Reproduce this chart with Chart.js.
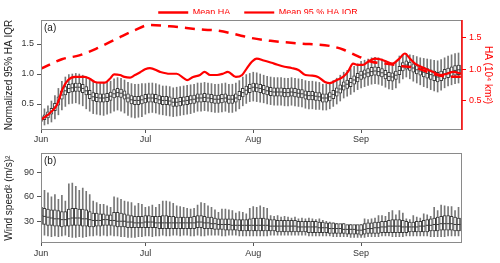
<!DOCTYPE html>
<html>
<head>
<meta charset="utf-8">
<script src="https://cdn.jsdelivr.net/npm/chart.js@4.4.1/dist/chart.umd.min.js"></script>
<style>
body { margin: 0; background: #fff; }
#wrap { position: relative; width: 500px; height: 263px; }
canvas { position: absolute; left: 0; }
#top { top: 0; }
#bot { top: 145px; }
</style>
</head>
<body>
<div id="wrap">
<canvas id="top" width="500" height="145"></canvas>
<canvas id="bot" width="500" height="118"></canvas>
</div>
<script>
// day 0 = 1 June, day 121 = 30 Sep
const monthTicks = [0, 30, 61, 92];
const monthLabels = ['Jun', 'Jul', 'Aug', 'Sep'];
const leftTicks = [0.5, 1.0, 1.5];
const rightTicks = [0.5, 1.0, 1.5];
const windTicks = [30, 60, 90];

// (a) normalized 95% HA IQR, daily boxes
const iqrMed = [
0.25,0.28,0.32,0.38,0.45,0.55,0.65,0.72,0.76,0.77,
0.78,0.78,0.76,0.72,0.66,0.62,0.61,0.60,0.60,0.61,
0.63,0.67,0.69,0.68,0.65,0.60,0.57,0.56,0.56,0.57,
0.59,0.60,0.60,0.59,0.57,0.56,0.56,0.55,0.53,0.53,
0.54,0.55,0.56,0.57,0.58,0.60,0.60,0.61,0.60,0.59,
0.58,0.58,0.59,0.60,0.58,0.58,0.60,0.64,0.69,0.73,
0.76,0.78,0.77,0.76,0.74,0.72,0.71,0.70,0.70,0.70,
0.69,0.69,0.70,0.69,0.68,0.67,0.65,0.64,0.64,0.63,
0.62,0.60,0.60,0.62,0.66,0.70,0.75,0.80,0.83,0.86,
0.90,0.94,0.98,1.00,1.02,1.04,1.05,1.04,1.02,0.99,
0.96,0.95,0.98,1.06,1.12,1.15,1.13,1.10,1.07,1.05,
1.03,1.01,0.99,0.97,0.95,0.97,1.00,1.02,1.04,1.06,
1.07,1.07];
const iqrQ1 = [
0.21,0.24,0.27,0.33,0.39,0.48,0.58,0.65,0.69,0.70,
0.71,0.71,0.69,0.65,0.59,0.55,0.54,0.53,0.53,0.54,
0.56,0.60,0.62,0.61,0.58,0.53,0.50,0.49,0.49,0.50,
0.52,0.53,0.53,0.52,0.50,0.49,0.49,0.48,0.46,0.46,
0.47,0.48,0.49,0.50,0.51,0.53,0.53,0.54,0.53,0.52,
0.51,0.51,0.52,0.53,0.51,0.51,0.53,0.57,0.62,0.66,
0.69,0.71,0.70,0.69,0.67,0.65,0.64,0.63,0.63,0.63,
0.62,0.62,0.63,0.62,0.61,0.60,0.58,0.57,0.57,0.56,
0.55,0.53,0.53,0.55,0.59,0.63,0.68,0.73,0.76,0.79,
0.83,0.87,0.91,0.93,0.95,0.97,0.98,0.97,0.95,0.92,
0.89,0.88,0.91,0.99,1.05,1.08,1.06,1.03,1.00,0.98,
0.95,0.93,0.91,0.89,0.87,0.89,0.92,0.94,0.96,0.98,
0.99,0.99];
const iqrQ3 = [
0.29,0.32,0.37,0.43,0.51,0.62,0.72,0.79,0.83,0.84,
0.85,0.85,0.83,0.79,0.73,0.69,0.68,0.67,0.67,0.68,
0.70,0.74,0.76,0.75,0.72,0.67,0.64,0.63,0.63,0.64,
0.66,0.67,0.67,0.66,0.64,0.63,0.63,0.62,0.60,0.60,
0.61,0.62,0.63,0.64,0.65,0.67,0.67,0.68,0.67,0.66,
0.65,0.65,0.66,0.67,0.65,0.65,0.67,0.71,0.76,0.80,
0.83,0.85,0.84,0.83,0.81,0.79,0.78,0.77,0.77,0.77,
0.76,0.76,0.77,0.76,0.75,0.74,0.72,0.71,0.71,0.70,
0.69,0.67,0.67,0.69,0.73,0.77,0.82,0.87,0.90,0.93,
0.97,1.01,1.05,1.07,1.09,1.11,1.12,1.11,1.09,1.06,
1.03,1.02,1.05,1.13,1.19,1.22,1.20,1.17,1.14,1.12,
1.11,1.09,1.07,1.05,1.03,1.05,1.08,1.10,1.12,1.14,
1.15,1.15];
const iqrLo = [
0.13,0.15,0.17,0.20,0.25,0.32,0.40,0.46,0.50,0.51,
0.52,0.50,0.47,0.42,0.38,0.34,0.33,0.32,0.31,0.33,
0.35,0.38,0.40,0.38,0.35,0.31,0.28,0.27,0.28,0.29,
0.33,0.35,0.36,0.35,0.33,0.32,0.31,0.30,0.29,0.30,
0.31,0.32,0.33,0.34,0.36,0.38,0.38,0.39,0.38,0.37,
0.36,0.36,0.37,0.38,0.36,0.36,0.38,0.42,0.47,0.51,
0.54,0.55,0.54,0.53,0.52,0.50,0.49,0.48,0.48,0.48,
0.47,0.47,0.48,0.47,0.46,0.45,0.43,0.42,0.42,0.41,
0.41,0.40,0.40,0.42,0.46,0.50,0.55,0.60,0.63,0.66,
0.70,0.74,0.77,0.79,0.81,0.83,0.84,0.83,0.81,0.78,
0.75,0.74,0.77,0.85,0.92,0.95,0.92,0.88,0.85,0.82,
0.79,0.77,0.74,0.72,0.70,0.73,0.77,0.80,0.82,0.84,
0.85,0.85];
const iqrHi = [
0.38,0.42,0.47,0.55,0.64,0.76,0.88,0.95,0.99,1.00,
1.01,1.00,0.98,0.95,0.90,0.86,0.85,0.84,0.85,0.86,
0.88,0.92,0.94,0.93,0.90,0.86,0.84,0.83,0.83,0.84,
0.84,0.85,0.85,0.84,0.82,0.80,0.80,0.79,0.77,0.78,
0.79,0.80,0.81,0.82,0.83,0.85,0.85,0.86,0.85,0.84,
0.83,0.83,0.84,0.85,0.83,0.83,0.85,0.89,0.95,0.99,
1.01,1.03,1.02,1.00,0.98,0.96,0.95,0.94,0.94,0.94,
0.93,0.93,0.94,0.93,0.92,0.91,0.89,0.88,0.88,0.87,
0.86,0.83,0.83,0.85,0.89,0.93,0.98,1.03,1.06,1.09,
1.13,1.17,1.21,1.23,1.25,1.27,1.28,1.27,1.25,1.22,
1.19,1.18,1.21,1.30,1.33,1.34,1.32,1.31,1.29,1.27,
1.26,1.25,1.24,1.23,1.22,1.24,1.27,1.30,1.32,1.34,
1.35,1.35];

// red lines, right axis (10^4 km^2)
const haDays = [0, 6, 11, 16, 22, 27, 31, 37, 46, 51, 57, 60, 66, 74, 83, 87, 91, 95, 99, 104, 108, 111, 116, 121];
const haMean = [1.01, 1.16, 1.22, 1.33, 1.49, 1.62, 1.70, 1.68, 1.63, 1.61, 1.54, 1.50, 1.45, 1.41, 1.37, 1.31, 1.21, 1.12, 1.09, 1.05, 1.02, 0.96, 0.89, 0.88];
const iqrDays = [0, 2.6, 4.6, 6.3, 7.8, 9.8, 12.6, 14, 15.5, 17, 18.4, 19.8, 21, 22.7, 24, 25.6, 27, 28.4, 29.9, 31.3,
  34.2, 37, 39, 41, 42, 43.7, 45.7, 47, 48.6, 50.6, 52.3, 53.7, 56, 57.8, 59.2, 60.6, 62, 64, 67, 70,
  72, 74, 76, 78, 79.6, 81.6, 83, 85, 86.8, 88.2, 89.7, 91, 92.5, 94, 96, 97.4, 99.4, 101, 103, 104.6,
  106, 107.5, 110, 112.6, 114.7, 116.7, 118.4, 121];
const iqrMean = [0.20, 0.31, 0.44, 0.70, 0.83, 0.88, 0.88, 0.85, 0.80, 0.79, 0.79, 0.85, 0.92, 0.91, 0.88, 0.87, 0.91, 0.95, 1.00, 1.02,
  0.96, 0.93, 0.93, 0.86, 0.83, 0.88, 0.91, 0.96, 0.91, 0.91, 0.93, 0.96, 0.88, 0.91, 1.02, 1.12, 1.17, 1.14, 1.09, 1.04,
  1.02, 0.99, 0.91, 0.90, 0.88, 0.80, 0.78, 0.83, 0.88, 0.96, 1.09, 1.07, 1.07, 1.12, 1.17, 1.16, 1.12, 1.09, 1.17, 1.25,
  1.17, 1.09, 1.02, 0.96, 0.91, 0.93, 0.96, 0.93];

// (b) wind speed squared, daily boxes
const windMed = [
37,36,35,34,33,33,32,32,33,34,
34,34,33,33,32,31,31,31,32,32,
31,31,30,30,30,29,29,28,28,28,
29,29,29,28,28,28,28,28,28,28,
28,28,28,28,28,29,29,28,28,27,
27,26,26,26,26,25,25,25,25,25,
25,25,25,25,25,25,24,24,24,24,
24,24,24,24,23,23,23,23,23,23,
22,22,22,21,21,21,21,20,20,20,
20,19,19,20,21,21,22,22,23,23,
24,24,24,24,23,23,23,23,23,24,
24,25,25,26,26,27,27,27,27,26,
26,26];
const windQ1 = [
26,26,25,25,24,24,23,24,24,25,
25,25,24,24,23,23,24,24,25,25,
25,24,23,23,23,22,22,22,22,22,
22,22,22,22,21,21,21,21,21,21,
21,21,21,21,21,22,22,21,21,21,
20,20,20,19,19,19,19,18,18,18,
18,18,18,18,18,18,18,18,17,17,
17,17,17,17,17,17,17,16,16,16,
16,16,16,15,15,15,15,15,14,14,
14,14,13,14,15,15,15,15,16,16,
16,16,16,16,16,16,17,17,17,17,
17,17,18,18,18,19,19,19,19,18,
18,18];
const windQ3 = [
47,46,45,44,44,43,42,42,45,46,
46,45,45,44,42,40,40,39,39,38,
38,41,41,40,39,38,37,36,36,36,
37,37,36,36,36,37,37,36,36,35,
35,35,35,35,36,37,37,36,35,35,
34,33,33,33,33,33,32,32,32,32,
33,34,34,34,34,33,32,32,31,31,
31,31,31,31,30,30,30,30,30,30,
29,29,28,28,28,27,27,27,26,26,
26,26,26,27,28,28,29,29,30,30,
31,32,32,32,31,30,29,29,30,30,
31,32,33,34,35,36,37,37,36,35,
34,34];
const windLo = [
12,13,12,11,12,11,12,13,11,10,
10,11,10,11,12,12,13,12,13,12,
13,12,12,11,11,10,10,10,11,11,
12,12,11,12,12,13,12,12,13,13,
12,13,13,12,12,13,12,12,13,13,
13,13,12,12,13,13,13,12,12,12,
12,12,12,12,12,12,13,13,13,13,
13,13,13,13,13,13,13,12,12,12,
12,12,12,12,11,11,11,11,11,10,
10,10,10,10,11,11,11,11,12,12,
12,11,11,11,11,12,12,12,12,12,
12,12,11,11,11,11,11,12,12,12,
12,12];
const windHi = [
71,68,65,60,63,57,62,55,76,77,
73,68,71,67,63,55,53,51,51,49,
47,60,59,57,55,54,53,49,52,51,
47,48,50,47,51,55,55,54,52,49,
48,47,46,45,46,50,53,52,49,47,
44,41,45,45,44,43,40,42,41,39,
46,48,47,49,47,46,37,36,37,35,
36,35,34,35,33,34,33,34,33,32,
33,31,30,29,28,27,26,27,25,26,
24,25,26,33,32,33,34,37,37,36,
41,43,38,43,40,33,32,37,35,34,
39,38,36,47,43,50,49,48,48,43,
47,43];

const days = iqrMed.map((_, i) => i);
const RED = '#ff0000';

Chart.defaults.font.family = '"Liberation Sans", Arial, sans-serif';
Chart.defaults.font.size = 9;
Chart.defaults.color = '#333';

function boxDatasets(lo, hi, q1, q3, med, axis) {
  return [
    { type: 'bar', yAxisID: axis, data: days.map(d => ({ x: d, y: [lo[d], hi[d]] })),
      backgroundColor: '#777777', barThickness: 1, grouped: false, order: 3 },
    { type: 'bar', yAxisID: axis, data: days.map(d => ({ x: d, y: [q1[d], q3[d]] })),
      backgroundColor: '#ffffff', borderColor: '#3a3a3a', borderWidth: 1, borderSkipped: false,
      barThickness: 3, grouped: false, order: 2 },
    { type: 'line', yAxisID: axis, data: days.map(d => ({ x: d, y: med[d] })), showLine: false,
      pointStyle: 'line', pointRadius: 1.5, pointBorderWidth: 1, pointBorderColor: '#3a3a3a', order: 1 }
  ];
}

function xAxis(h, pad) {
  return {
    type: 'linear', min: 0, max: 121, offset: false,
    afterBuildTicks: s => { s.ticks = monthTicks.map(v => ({ value: v })); },
    afterFit: s => { s.height = h; },
    ticks: { callback: v => monthLabels[monthTicks.indexOf(v)], padding: pad, maxRotation: 0, autoSkip: false, color: '#333' },
    grid: { drawOnChartArea: false, offset: false, tickLength: 3, color: '#555' },
    border: { display: false }
  };
}

// frame around the plot area and the panel letter
const framePlugin = {
  id: 'frame',
  afterDatasetsDraw(chart, args, opts) {
    const { ctx, chartArea: a } = chart;
    ctx.save();
    ctx.strokeStyle = '#8a8a8a';
    ctx.lineWidth = 1;
    ctx.strokeRect(Math.round(a.left) + 0.5, Math.round(a.top) + 0.5,
      Math.round(a.right - a.left) - 1, Math.round(a.bottom - a.top) - 1);
    if (opts.rightColor) {
      ctx.strokeStyle = opts.rightColor;
      ctx.lineWidth = 1.5;
      ctx.beginPath();
      ctx.moveTo(Math.round(a.right), a.top);
      ctx.lineTo(Math.round(a.right), a.bottom);
      ctx.stroke();
    }
    ctx.fillStyle = '#222';
    ctx.font = '10px "Liberation Sans", Arial, sans-serif';
    ctx.textBaseline = 'middle';
    ctx.fillText(opts.label, a.left + 3, a.top + 8);
    ctx.restore();
  }
};

const legendTweak = {
  id: 'legendTweak',
  beforeInit(chart) {
    const fit = chart.legend.fit;
    chart.legend.fit = function () { fit.call(this); this.height = 20; };
  },
  afterLayout(chart) {
    const lg = chart.legend;
    lg.top -= 6; lg.bottom -= 6; lg.left += 8; lg.right += 8;
  }
};

new Chart(document.getElementById('top'), {
  type: 'bar',
  data: {
    datasets: boxDatasets(iqrLo, iqrHi, iqrQ1, iqrQ3, iqrMed, 'y').concat([
      { type: 'line', label: 'Mean HA', yAxisID: 'y2', data: haDays.map((d, i) => ({ x: d, y: haMean[i] })),
        borderColor: RED, borderWidth: 2.5, borderDash: [10, 7], pointRadius: 0,
        cubicInterpolationMode: 'monotone', order: 0 },
      { type: 'line', label: 'Mean 95 % HA IQR', yAxisID: 'y2', data: iqrDays.map((d, i) => ({ x: d, y: iqrMean[i] })),
        borderColor: RED, borderWidth: 2.2, pointRadius: 0,
        cubicInterpolationMode: 'monotone', order: 0 }
    ])
  },
  options: {
    responsive: false, animation: false, devicePixelRatio: 1,
    layout: { padding: 0 },
    plugins: {
      tooltip: { enabled: false },
      legend: {
        display: true, position: 'top',
        labels: {
          filter: item => !!item.text,
          usePointStyle: true, pointStyle: 'line', pointStyleWidth: 30,
          color: RED, padding: 14, font: { size: 9 }
        }
      },
      frame: { label: '(a)', rightColor: RED }
    },
    scales: {
      x: xAxis(15, 1),
      y: {
        position: 'left', min: 0.067, max: 1.9, beginAtZero: false,
        afterBuildTicks: s => { s.ticks = leftTicks.map(v => ({ value: v })); },
        afterFit: s => { s.width = 41; },
        ticks: { callback: v => v.toFixed(1), padding: 3, color: '#333' },
        grid: { drawOnChartArea: false, tickLength: 4, color: '#555' },
        border: { display: false },
        title: { display: true, text: 'Normalized 95% HA IQR', color: '#222', font: { size: 10 }, padding: { top: 3, bottom: 0 } }
      },
      y2: {
        position: 'right', min: 0.04, max: 1.78, beginAtZero: false,
        afterBuildTicks: s => { s.ticks = rightTicks.map(v => ({ value: v })); },
        afterFit: s => { s.width = 38; },
        ticks: { callback: v => v.toFixed(1), padding: 3, color: RED },
        grid: { drawOnChartArea: false, tickLength: 4, color: RED },
        border: { display: false },
        title: { display: true, text: 'HA (10⁴ km²)', color: RED, font: { size: 10 }, padding: { top: 6, bottom: 0 } }
      }
    }
  },
  plugins: [framePlugin, legendTweak]
});

new Chart(document.getElementById('bot'), {
  type: 'bar',
  data: { datasets: boxDatasets(windLo, windHi, windQ1, windQ3, windMed, 'y') },
  options: {
    responsive: false, animation: false, devicePixelRatio: 1,
    layout: { padding: { top: 6, right: 38, left: 0, bottom: 0 } },
    plugins: {
      tooltip: { enabled: false },
      legend: { display: false },
      frame: { label: '(b)' }
    },
    scales: {
      x: xAxis(20, 2),
      y: {
        position: 'left', min: 3.2, max: 113.6, beginAtZero: false,
        afterBuildTicks: s => { s.ticks = windTicks.map(v => ({ value: v })); },
        afterFit: s => { s.width = 41; },
        ticks: { callback: v => String(v), padding: 3, color: '#333' },
        grid: { drawOnChartArea: false, tickLength: 4, color: '#555' },
        border: { display: false },
        title: { display: true, text: 'Wind speed² (m/s)²', color: '#222', font: { size: 10 }, padding: { top: 3, bottom: 0 } }
      }
    }
  },
  plugins: [framePlugin]
});
</script>
</body>
</html>
